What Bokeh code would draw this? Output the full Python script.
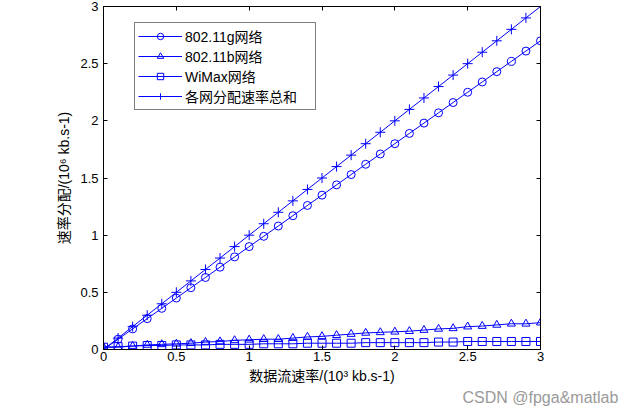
from bokeh.plotting import figure
from bokeh.models import Range1d, FixedTicker, LinearAxis, Legend, LegendItem, Title
from bokeh.embed import file_html
from bokeh.resources import INLINE

# ---- data ----
x_vals = [0.0, 0.1, 0.2, 0.3, 0.4, 0.5, 0.6, 0.7, 0.8, 0.9, 1.0,
          1.1, 1.2, 1.3, 1.4, 1.5, 1.6, 1.7, 1.8, 1.9, 2.0,
          2.1, 2.2, 2.3, 2.4, 2.5, 2.6, 2.7, 2.8, 2.9, 3.0]
g_vals = [0.0, 0.09, 0.18, 0.27, 0.36, 0.45, 0.54, 0.63, 0.72, 0.81, 0.90,
          0.99, 1.08, 1.17, 1.26, 1.35, 1.44, 1.53, 1.62, 1.71, 1.80,
          1.89, 1.98, 2.07, 2.16, 2.25, 2.34, 2.43, 2.52, 2.61, 2.70]
b_vals = [0.02, 0.02, 0.03, 0.04, 0.045, 0.05, 0.055, 0.065, 0.07, 0.08, 0.085,
          0.09, 0.09, 0.10, 0.11, 0.115, 0.125, 0.135, 0.145, 0.15, 0.155,
          0.16, 0.17, 0.18, 0.185, 0.20, 0.205, 0.215, 0.225, 0.225, 0.235]
w_vals = [0.02, 0.025, 0.03, 0.035, 0.035, 0.04, 0.04, 0.04, 0.045, 0.045, 0.045,
          0.05, 0.05, 0.05, 0.055, 0.055, 0.055, 0.055, 0.06, 0.06, 0.06,
          0.06, 0.06, 0.065, 0.065, 0.07, 0.07, 0.07, 0.07, 0.07, 0.07]
total_vals = [0.0, 0.1, 0.2, 0.3, 0.4, 0.5, 0.6, 0.7, 0.8, 0.9, 1.0,
              1.1, 1.2, 1.3, 1.4, 1.5, 1.6, 1.7, 1.8, 1.9, 2.0,
              2.1, 2.2, 2.3, 2.4, 2.5, 2.6, 2.7, 2.8, 2.9, 3.0]
tick_vals = [0.0, 0.5, 1.0, 1.5, 2.0, 2.5, 3.0]
tick_labels = ["0", "0.5", "1", "1.5", "2", "2.5", "3"]
series_names = ["802.11g网络", "802.11b网络", "WiMax网络", "各网分配速率总和"]
x_title = "数据流速率/(10³ kb.s-1)"
y_title = "速率分配/(10⁶ kb.s-1)"
watermark = "CSDN @fpga&matlab"

BLUE = "#0000ff"
FONT = "'Liberation Sans', 'Noto Sans CJK SC', sans-serif"

p = figure(width=633, height=406, output_backend="svg", toolbar_location=None,
           x_range=Range1d(0, 3), y_range=Range1d(0, 3),
           min_border_left=103, min_border_right=93,
           min_border_top=6, min_border_bottom=57)
p.grid.visible = False
p.outline_line_color = "black"
p.outline_line_width = 1
p.background_fill_color = "white"
p.border_fill_color = "white"

overrides = dict(zip(tick_vals, tick_labels))
for ax in (p.xaxis[0], p.yaxis[0]):
    ax.ticker = FixedTicker(ticks=tick_vals)
    ax.major_label_overrides = overrides
    ax.major_tick_in = 4
    ax.major_tick_out = 0
    ax.minor_tick_line_color = None
    ax.axis_line_color = "black"
    ax.major_tick_line_color = "black"
    ax.major_label_text_font = FONT
    ax.major_label_text_font_size = "13px"
    ax.major_label_text_color = "black"
    ax.axis_label_text_font = FONT
    ax.axis_label_text_font_size = "14px"
    ax.axis_label_text_font_style = "normal"
    ax.axis_label_text_color = "black"

p.xaxis[0].axis_label = x_title
p.yaxis[0].axis_label = y_title
p.xaxis[0].major_label_standoff = 2
p.xaxis[0].axis_label_standoff = 4
p.yaxis[0].major_label_standoff = 5
p.yaxis[0].axis_label_standoff = 5

blank = {t: "" for t in tick_vals}
for loc in ("above", "right"):
    ax = LinearAxis(ticker=FixedTicker(ticks=tick_vals),
                    major_label_overrides=blank,
                    major_tick_in=4, major_tick_out=0,
                    minor_tick_line_color=None,
                    major_label_standoff=0,
                    axis_line_color="black", major_tick_line_color="black")
    p.add_layout(ax, loc)

rend = []
for yv, mk, sz in ((g_vals, "circle", 8), (b_vals, "triangle", 8),
                   (w_vals, "square", 8), (total_vals, "cross", 10)):
    ln = p.line(x_vals, yv, line_color=BLUE, line_width=1)
    sc = p.scatter(x_vals, yv, marker=mk, size=sz, line_color=BLUE,
                   fill_color=None, line_width=1)
    rend.append([ln, sc])

legend = Legend(items=[LegendItem(label=n, renderers=r) for n, r in zip(series_names, rend)],
                location=(31, 239), margin=0, padding=3, spacing=0,
                glyph_width=44, glyph_height=16, label_height=16,
                label_standoff=3, label_width=127,
                label_text_font=FONT, label_text_font_size="14px",
                label_text_color="black",
                border_line_color="black", border_line_width=1,
                background_fill_color="white", background_fill_alpha=1)
p.add_layout(legend, "center")

# watermark shown in the bottom-right corner of the reference image
wm = Title(text=watermark, align="left", offset=359, standoff=0,
           text_color="#9a9a9a", text_font=FONT, text_font_size="16px",
           text_font_style="normal")
p.add_layout(wm, "below")

open("out.html", "w").write(file_html(p, INLINE))
